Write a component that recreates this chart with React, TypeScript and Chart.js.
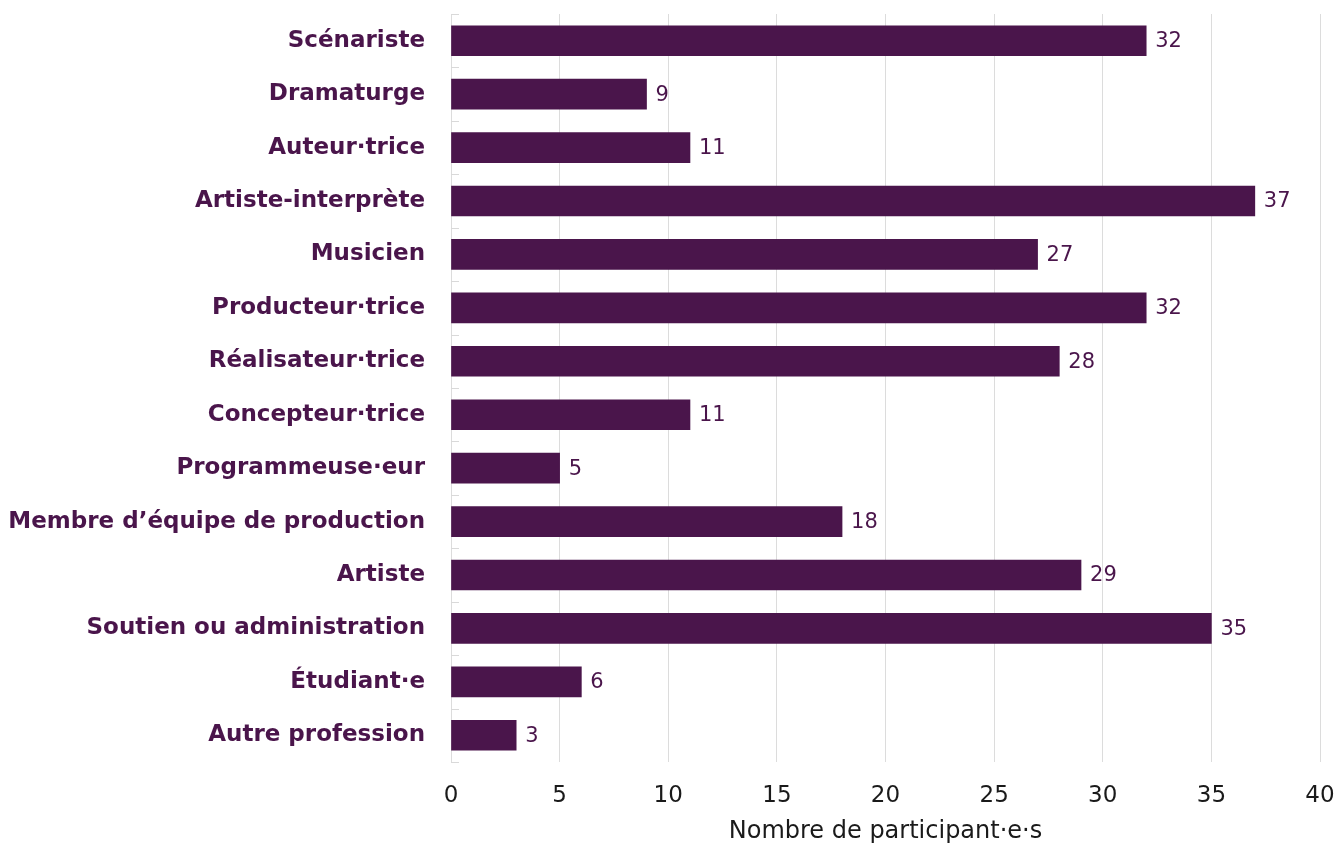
import React, { useEffect, useRef } from "react";
import { Chart, registerables } from "chart.js";

Chart.register(...registerables);

const categories = [
  "Scénariste",
  "Dramaturge",
  "Auteur·trice",
  "Artiste-interprète",
  "Musicien",
  "Producteur·trice",
  "Réalisateur·trice",
  "Concepteur·trice",
  "Programmeuse·eur",
  "Membre d’équipe de production",
  "Artiste",
  "Soutien ou administration",
  "Étudiant·e",
  "Autre profession",
];
const values = [32, 9, 11, 37, 27, 32, 28, 11, 5, 18, 29, 35, 6, 3];
const xTicks = [0, 5, 10, 15, 20, 25, 30, 35, 40];
const axisTitle = "Nombre de participant·e·s";

const PURPLE = "#4a154b";
const FONT = "'DejaVu Sans', 'Open Sans', sans-serif";

const valueLabels = {
  id: "valueLabels",
  afterDatasetsDraw(chart: any) {
    const ctx = chart.ctx;
    const meta = chart.getDatasetMeta(0);
    ctx.save();
    ctx.fillStyle = PURPLE;
    ctx.font = `normal 21px ${FONT}`;
    ctx.textAlign = "left";
    ctx.textBaseline = "middle";
    meta.data.forEach((bar: any, i: number) => {
      ctx.fillText(String(values[i]), bar.x + 9, bar.y + 1);
    });
    ctx.restore();
  },
};

const catTicks = {
  id: "catTicks",
  beforeDatasetsDraw(chart: any) {
    const ctx = chart.ctx;
    const y = chart.scales.y;
    const x0 = chart.chartArea.left;
    ctx.save();
    ctx.strokeStyle = "#d9d9d9";
    ctx.lineWidth = 1;
    const n = categories.length;
    for (let i = 0; i <= n; i++) {
      const yy = Math.round(y.top + ((y.bottom - y.top) * i) / n) + 0.5;
      ctx.beginPath();
      ctx.moveTo(x0, yy);
      ctx.lineTo(x0 + 8, yy);
      ctx.stroke();
    }
    ctx.restore();
  },
};

export default function App() {
  const ref = useRef<HTMLCanvasElement | null>(null);
  useEffect(() => {
    if (!ref.current) return;
    const chart = new Chart(ref.current, {
      type: "bar",
      data: {
        labels: categories,
        datasets: [
          {
            data: values,
            backgroundColor: PURPLE,
            borderWidth: 0,
            barThickness: 30,
          },
        ],
      },
      options: {
        indexAxis: "y",
        animation: false,
        responsive: false,
        maintainAspectRatio: false,
        layout: { padding: { top: 14, right: 23, left: 0, bottom: 0 } },
        plugins: {
          legend: { display: false },
          tooltip: { enabled: false },
        },
        scales: {
          x: {
            min: 0,
            max: 40,
            afterBuildTicks(scale: any) {
              scale.ticks = xTicks.map((v) => ({ value: v }));
            },
            afterFit(scale: any) {
              scale.height = 84;
              scale.paddingLeft = 0;
              scale.paddingRight = 0;
              scale.paddingTop = 0;
              scale.paddingBottom = 0;
            },
            grid: { color: "#dcdcdc", drawTicks: false },
            border: { display: false },
            ticks: {
              padding: 20,
              color: "#1a1a1a",
              font: { family: FONT, size: 23 },
            },
            title: {
              display: true,
              text: axisTitle,
              color: "#1a1a1a",
              font: { family: FONT, size: 24 },
              padding: { top: 4, bottom: 0 },
            },
          },
          y: {
            afterFit(scale: any) {
              scale.width = 451;
              scale.paddingLeft = 0;
              scale.paddingRight = 0;
              scale.paddingTop = 0;
              scale.paddingBottom = 0;
            },
            grid: { display: false, drawTicks: false },
            border: { display: false },
            ticks: {
              padding: 26,
              color: PURPLE,
              font: { family: FONT, size: 23, weight: "bold" },
            },
          },
        },
      },
      plugins: [catTicks, valueLabels],
    });
    return () => chart.destroy();
  }, []);
  return (
    <div style={{ position: "absolute", left: 0, top: 0, width: 1343, height: 846, background: "#fff" }}>
      <canvas ref={ref} width={1343} height={846} style={{ width: 1343, height: 846 }} />
    </div>
  );
}
